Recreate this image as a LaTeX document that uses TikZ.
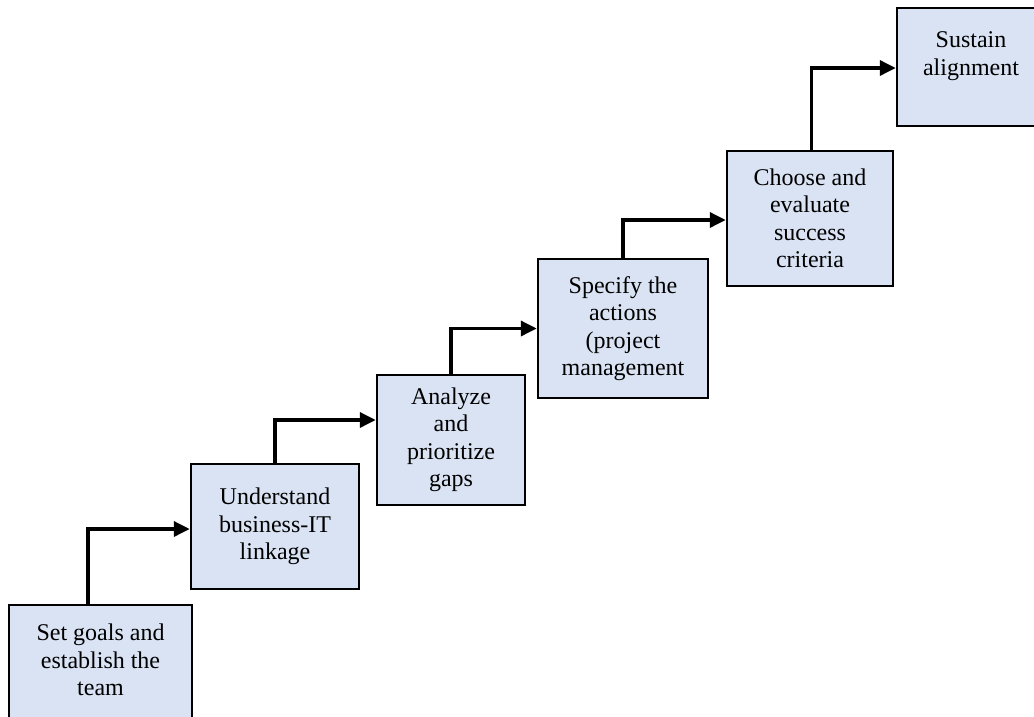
\documentclass[tikz,border=0pt]{standalone}
\usepackage{fontspec}
\setmainfont{Liberation Serif}
\usetikzlibrary{arrows.meta}
\definecolor{boxfill}{HTML}{DAE3F3}
\tikzset{
  stepbox/.style={draw=black, line width=2.5pt, fill=boxfill, inner sep=0pt},
  txt/.style={align=center, font=\fontsize{24}{27.5}\selectfont, inner sep=0pt},
  conn/.style={line width=3.5pt, -{Triangle[length=16pt,width=15pt]}},
}
\begin{document}
\begin{tikzpicture}[x=1pt,y=-1pt]
\useasboundingbox (0,0) rectangle (1034,716);
\clip (0,0) rectangle (1034,716);
\node[stepbox, minimum width=183pt, minimum height=130pt] (b1) at (100.5,670) {};
\node[txt] (t1) at (100.5,660) {Set goals and\\establish the\\team};
\node[stepbox, txt, minimum width=168pt, minimum height=125pt] (b2) at (275,526.5) {Understand\\business-IT\\linkage};
\node[stepbox, txt, minimum width=148pt, minimum height=130pt] (b3) at (451,440) {Analyze\\and\\prioritize\\gaps};
\node[stepbox, txt, minimum width=170pt, minimum height=139pt] (b4) at (623,328.5) {Specify the\\actions\\(project\\management};
\node[stepbox, txt, minimum width=166pt, minimum height=135pt] (b5) at (810,218.5) {Choose and\\evaluate\\success\\criteria};
\node[stepbox, minimum width=148pt, minimum height=118pt] (b6) at (971,67) {};
\node[txt] (t6) at (971,56) {Sustain\\alignment};
\draw[conn] ([xshift=-12.5pt]b1.north) |- ([yshift=-2.5pt]b2.west);
\draw[conn] (b2.north) |- ([yshift=20pt]b3.west);
\draw[conn] (b3.north) |- (b4.west);
\draw[conn] (b4.north) |- ([yshift=-1.5pt]b5.west);
\draw[conn] ([xshift=1.5pt]b5.north) |- ([yshift=-1pt]b6.west);
\end{tikzpicture}
\end{document}
